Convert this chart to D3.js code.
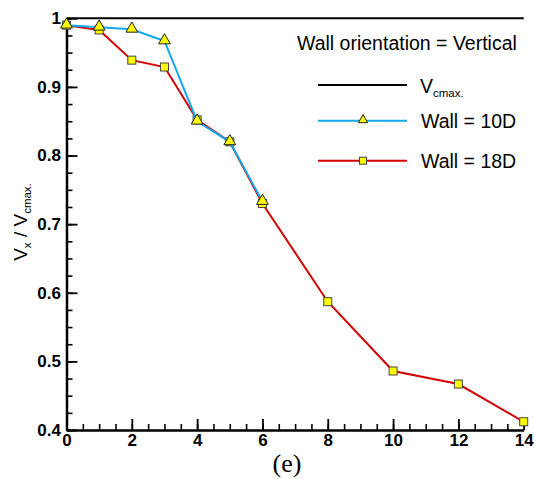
<!DOCTYPE html>
<html>
<head>
<meta charset="utf-8">
<script src="https://cdn.jsdelivr.net/npm/d3@7"></script>
<style>
  body { margin: 0; background: #fff; }
  svg { font-family: "Liberation Sans", Arial, sans-serif; }
  .axis text { font-family: "Liberation Sans", Arial, sans-serif; font-weight: bold; font-size: 17px; fill: #000; }
</style>
</head>
<body>
<svg width="534" height="479"></svg>
<script>
// data
var xs10 = [0, 1, 2, 3, 4, 5, 6];
var v10 = [0.990, 0.987, 0.984, 0.967, 0.850, 0.820, 0.733];
var xs18 = [0, 1, 2, 3, 4, 5, 6, 8, 10, 12, 14];
var v18 = [0.990, 0.983, 0.939, 0.929, 0.852, 0.820, 0.730, 0.587, 0.486, 0.467, 0.412];
var vcmaxX = [0, 14];
var vcmaxY = [1, 1];
var xTicks = [0, 2, 4, 6, 8, 10, 12, 14];
var yTicks = [0.4, 0.5, 0.6, 0.7, 0.8, 0.9, 1];

var blue = "#12a9f0", red = "#d20000", yellow = "#ffff00";

var svg = d3.select("svg"),
    margin = {top: 18.3, left: 66.5},
    width = 457.2,
    height = 411.7,
    g = svg.append("g").attr("transform", "translate(" + margin.left + "," + margin.top + ")");

var x = d3.scaleLinear().domain([0, 14]).range([0, width]);
var y = d3.scaleLinear().domain([0.4, 1]).range([height, 0]);

// minor ticks
g.append("g")
    .attr("transform", "translate(0," + height + ")")
    .call(d3.axisBottom(x).tickValues(d3.range(0, 14.01, 0.5)).tickSize(-6).tickFormat(""))
    .call(function (a) { a.select(".domain").remove(); a.selectAll("line").attr("stroke-width", 1.6); });
g.append("g")
    .call(d3.axisLeft(y).tickValues(d3.range(0.4, 1.001, 0.025)).tickSize(-6).tickFormat(""))
    .call(function (a) { a.select(".domain").remove(); a.selectAll("line").attr("stroke-width", 1.6); });

// major ticks + labels
g.append("g")
    .attr("class", "axis")
    .attr("transform", "translate(0," + height + ")")
    .call(d3.axisBottom(x).tickValues(xTicks).tickSizeInner(-11).tickSizeOuter(0).tickPadding(4).tickFormat(d3.format("d")))
    .call(function (a) {
      a.select(".domain").attr("stroke-width", 2.5);
      a.selectAll("line").attr("stroke-width", 1.8);
    });
g.append("g")
    .attr("class", "axis")
    .call(d3.axisLeft(y).tickValues(yTicks).tickSizeInner(-11).tickSizeOuter(0).tickPadding(5.5)
      .tickFormat(function (d) { return d === 1 ? "1" : d3.format(".1f")(d); }))
    .call(function (a) {
      a.select(".domain").attr("stroke-width", 2.5);
      a.selectAll("line").attr("stroke-width", 1.8);
    });

var line = d3.line()
    .x(function (d) { return x(d[0]); })
    .y(function (d) { return y(d[1]); });

// Vcmax reference line
g.append("path")
    .attr("d", line(d3.zip(vcmaxX, vcmaxY)))
    .attr("fill", "none").attr("stroke", "#000").attr("stroke-width", 2);

var data18 = d3.zip(xs18, v18), data10 = d3.zip(xs10, v10);

g.append("path")
    .attr("d", line(data18))
    .attr("fill", "none").attr("stroke", red).attr("stroke-width", 2);
g.selectAll(".sq")
  .data(data18)
  .enter().append("rect")
    .attr("class", "sq")
    .attr("x", function (d) { return x(d[0]) - 4; })
    .attr("y", function (d) { return y(d[1]) - 4; })
    .attr("width", 8).attr("height", 8)
    .attr("fill", yellow).attr("stroke", "#444").attr("stroke-width", 1);

g.append("path")
    .attr("d", line(data10))
    .attr("fill", "none").attr("stroke", blue).attr("stroke-width", 2);
var tri = d3.symbol().type(d3.symbolTriangle).size(60);
g.selectAll(".tri")
  .data(data10)
  .enter().append("path")
    .attr("class", "tri")
    .attr("d", tri)
    .attr("transform", function (d) { return "translate(" + x(d[0]) + "," + (y(d[1]) - 0.5) + ")"; })
    .attr("fill", yellow).attr("stroke", "#222").attr("stroke-width", 1);

// legend
svg.append("text")
    .attr("x", 297).attr("y", 50)
    .style("font-size", "19.5px")
    .text("Wall orientation = Vertical");

var lx0 = 318, lx1 = 407, lmid = 363, tx = 421;
svg.append("line").attr("x1", lx0).attr("x2", lx1).attr("y1", 85).attr("y2", 85)
    .attr("stroke", "#000").attr("stroke-width", 2);
var vt = svg.append("text").attr("x", 420).attr("y", 93).style("font-size", "19.5px");
vt.append("tspan").text("V");
vt.append("tspan").attr("dy", 4).style("font-size", "11.5px").text("cmax.");

svg.append("line").attr("x1", lx0).attr("x2", lx1).attr("y1", 120.7).attr("y2", 120.7)
    .attr("stroke", blue).attr("stroke-width", 2);
svg.append("path").attr("d", d3.symbol().type(d3.symbolTriangle).size(38))
    .attr("transform", "translate(" + lmid + ",120)")
    .attr("fill", yellow).attr("stroke", "#222").attr("stroke-width", 1);
svg.append("text").attr("x", tx).attr("y", 128).style("font-size", "19.5px").text("Wall = 10D");

svg.append("line").attr("x1", lx0).attr("x2", lx1).attr("y1", 160.7).attr("y2", 160.7)
    .attr("stroke", red).attr("stroke-width", 2);
svg.append("rect").attr("x", lmid - 3.5).attr("y", 157.2).attr("width", 7).attr("height", 7)
    .attr("fill", yellow).attr("stroke", "#444").attr("stroke-width", 1);
svg.append("text").attr("x", tx).attr("y", 168).style("font-size", "19.5px").text("Wall = 18D");

// y axis label
var yl = svg.append("text")
    .attr("transform", "translate(27,222) rotate(-90)")
    .attr("text-anchor", "middle")
    .style("font-size", "19px");
yl.append("tspan").text("V");
yl.append("tspan").attr("dy", 4).style("font-size", "11.5px").text("x");
yl.append("tspan").attr("dy", -4).text(" / V");
yl.append("tspan").attr("dy", 4).style("font-size", "11.5px").text("cmax.");

// caption
svg.append("text")
    .attr("x", 287).attr("y", 472)
    .attr("text-anchor", "middle")
    .style("font-family", "'Liberation Serif', 'Times New Roman', serif")
    .style("font-size", "26px")
    .text("(e)");
</script>
</body>
</html>
